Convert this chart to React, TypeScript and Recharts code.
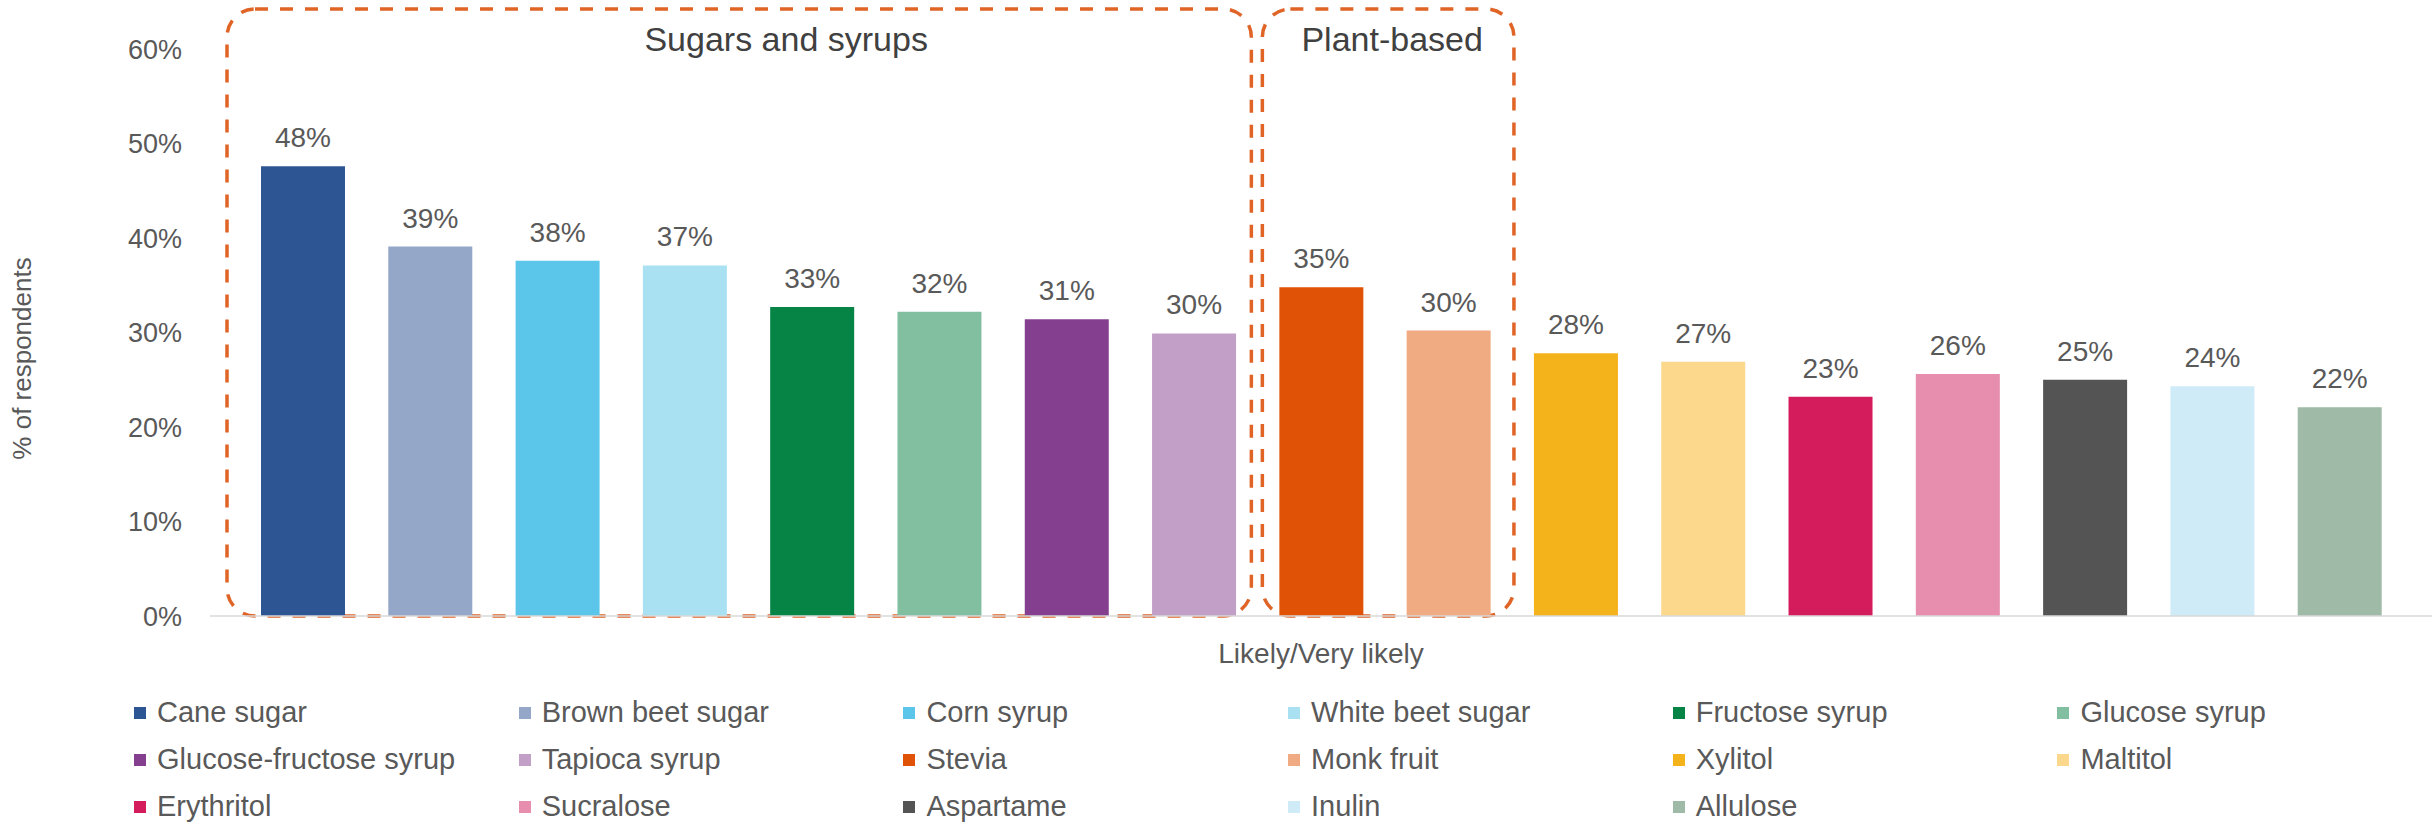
import { BarChart, Bar, XAxis, YAxis, Cell, LabelList, Legend, ReferenceArea } from 'recharts'

// sweeteners, in chart order
const sweeteners = [
  'Cane sugar',
  'Brown beet sugar',
  'Corn syrup',
  'White beet sugar',
  'Fructose syrup',
  'Glucose syrup',
  'Glucose-fructose syrup',
  'Tapioca syrup',
  'Stevia',
  'Monk fruit',
  'Xylitol',
  'Maltitol',
  'Erythritol',
  'Sucralose',
  'Aspartame',
  'Inulin',
  'Allulose',
]

// % of respondents saying Likely/Very likely
const likelyShare = [47.6, 39.1, 37.6, 37.1, 32.7, 32.2, 31.4, 29.9, 34.8, 30.2, 27.8, 26.9, 23.2, 25.6, 25.0, 24.3, 22.1]

const colors = [
  '#2E5593',
  '#94A7C8',
  '#5BC6EA',
  '#A9E1F3',
  '#068446',
  '#82BFA1',
  '#843F8F',
  '#C29FC6',
  '#E05206',
  '#F1AB82',
  '#F5B31B',
  '#FBD88C',
  '#D41B5B',
  '#E78DAE',
  '#545454',
  '#CFEBF7',
  '#9FBAA6',
]

const yTicks = [0, 10, 20, 30, 40, 50, 60]
const categoryLabel = 'Likely/Very likely'

const groups = [
  { title: 'Sugars and syrups', from: 'Cane sugar', to: 'Tapioca syrup' },
  { title: 'Plant-based', from: 'Stevia', to: 'Monk fruit' },
]

// box tweaks per group (px): how far the dashed frame sits inside its bands
const groupBoxStyle = [
  { insetLeft: -12, insetRight: 6, titleShift: 47 },
  { insetLeft: 5, insetRight: -2, titleShift: 4 },
]

const data = sweeteners.map((name, i) => ({ name, value: likelyShare[i] }))

const gray = '#595959'
const orange = '#DF6426'

function GroupBox(props: any) {
  const { x, y, width, height, title, insetLeft, insetRight, titleShift } = props
  const left = x + insetLeft
  const right = x + width - insetRight
  const top = y - 40
  const bottom = y + height
  return (
    <g>
      <rect
        x={left}
        y={top}
        width={right - left}
        height={bottom - top}
        rx={28}
        ry={28}
        fill="none"
        stroke={orange}
        strokeWidth={3.5}
        strokeDasharray="13 12"
      />
      <text
        x={(left + right) / 2 + titleShift}
        y={top + 30}
        textAnchor="middle"
        dominantBaseline="central"
        fontSize={34}
        fill="#404040"
      >
        {title}
      </text>
    </g>
  )
}

function LegendGrid() {
  return (
    <div
      style={{
        display: 'grid',
        gridTemplateColumns: 'repeat(6, 384.7px)',
        paddingLeft: 134,
        fontSize: 29,
        color: gray,
        lineHeight: '47px',
      }}
    >
      {sweeteners.map((name, i) => (
        <div key={name} style={{ display: 'flex', alignItems: 'center', whiteSpace: 'nowrap' }}>
          <span style={{ width: 12, height: 12, background: colors[i], marginRight: 11, flex: 'none' }} />
          {name}
        </div>
      ))}
    </div>
  )
}

export default function App() {
  return (
    <div style={{ position: 'absolute', left: 0, top: 0, fontFamily: "'Liberation Sans', Arial, sans-serif" }}>
      <BarChart width={2432} height={825} data={data} margin={{ top: 49, right: 0, bottom: 135, left: 90 }}>
        <XAxis
          dataKey="name"
          tick={false}
          tickLine={false}
          axisLine={{ stroke: '#D9D9D9', strokeWidth: 1.5 }}
          height={74}
          padding={{ left: 29, right: 29 }}
          label={{ value: categoryLabel, position: 'center', fill: gray, fontSize: 28 }}
        />
        <YAxis
          width={120}
          domain={[0, 60]}
          ticks={yTicks}
          tickFormatter={(v) => `${v}%`}
          axisLine={false}
          tickLine={false}
          tickSize={0}
          tickMargin={28}
          tick={{ fill: gray, fontSize: 27 }}
          label={{
            value: '% of respondents',
            angle: -90,
            position: 'insideLeft',
            offset: -68,
            dy: 26,
            fill: gray,
            fontSize: 26,
            style: { textAnchor: 'middle' },
          }}
        />
        <Bar dataKey="value" barSize={84} isAnimationActive={false}>
          {data.map((d, i) => (
            <Cell key={d.name} fill={colors[i]} />
          ))}
          <LabelList
            dataKey="value"
            position="top"
            offset={19}
            formatter={(v: any) => `${Math.round(Number(v))}%`}
            fill={gray}
            fontSize={28}
          />
        </Bar>
        {groups.map((g, i) => (
          <ReferenceArea
            key={g.title}
            x1={g.from}
            x2={g.to}
            shape={(p: any) => <GroupBox {...p} title={g.title} {...groupBoxStyle[i]} />}
          />
        ))}
        <Legend
          layout="horizontal"
          verticalAlign="middle"
          align="center"
          wrapperStyle={{ left: 0, top: 689, width: 2432 }}
          content={() => <LegendGrid />}
        />
      </BarChart>
    </div>
  )
}
